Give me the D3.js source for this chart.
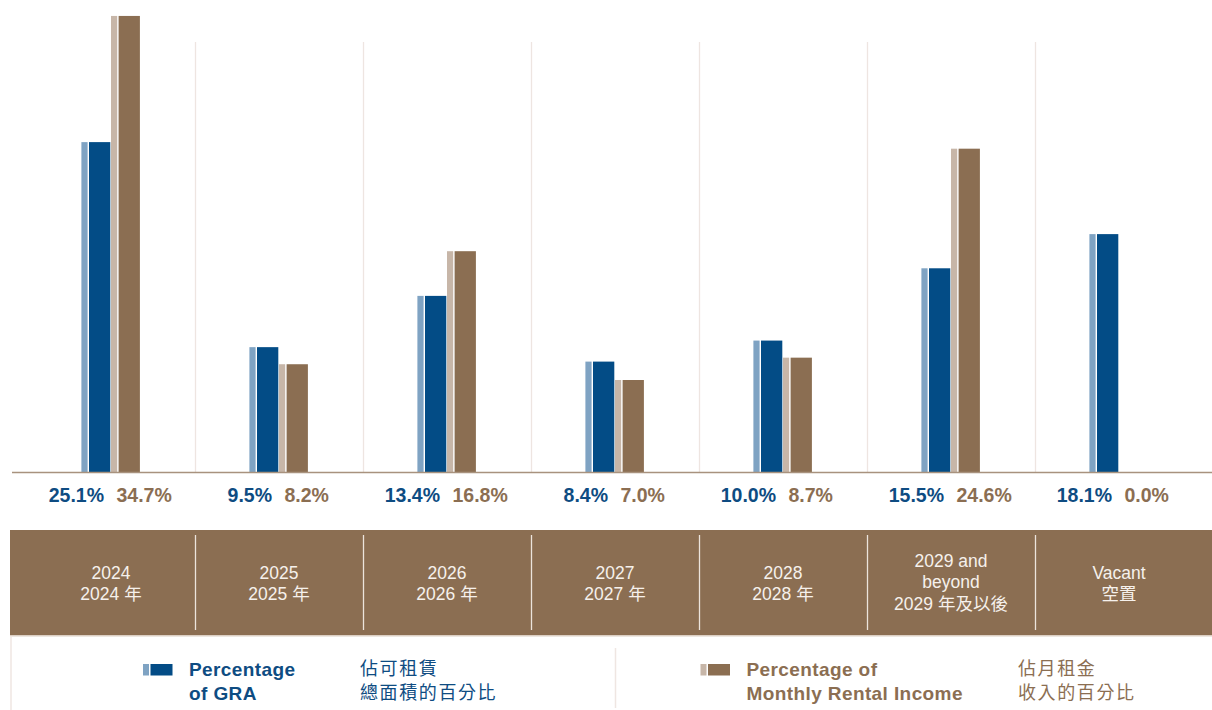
<!DOCTYPE html>
<html>
<head>
<meta charset="utf-8">
<script src="https://cdn.jsdelivr.net/npm/d3@7"></script>
<style>
  html, body { margin: 0; padding: 0; background: #ffffff; }
  svg { display: block; }
</style>
</head>
<body>
<svg id="chart" width="1212" height="710"></svg>
<script>
// ---- data ----
const categories = ["2024", "2025", "2026", "2027", "2028", "2029+", "Vacant"];
const categoryLabels = [
  ["2024", "2024 年"],
  ["2025", "2025 年"],
  ["2026", "2026 年"],
  ["2027", "2027 年"],
  ["2028", "2028 年"],
  ["2029 and", "beyond", "2029 年及以後"],
  ["Vacant", "空置"]
];
const graValues = [25.1, 9.5, 13.4, 8.4, 10.0, 15.5, 18.1];
const mriValues = [34.7, 8.2, 16.8, 7.0, 8.7, 24.6, 0.0];
const seriesKeys = ["gra", "mri"];
const seriesNamesEn = [["Percentage", "of GRA"], ["Percentage of", "Monthly Rental Income"]];
const seriesNamesZh = [["佔可租賃", "總面積的百分比"], ["佔月租金", "收入的百分比"]];

// ---- styles ----
const colors = {
  gra: { dark: "#034c86", light: "#7fa3c3", text: "#0e4c82" },
  mri: { dark: "#8b6e52", light: "#c7b6a8", text: "#8b6e52" }
};
const bandColor = "#8b6e52";

const svg = d3.select("#chart");
const baseY = 472;

const x0 = d3.scaleBand().domain(categories).range([27, 1203]);
const x1 = d3.scaleBand().domain(seriesKeys)
  .range([x0.bandwidth() / 2 - 29.6, x0.bandwidth() / 2 + 29.6]);
const y = d3.scaleLinear().domain([0, 35]).range([baseY, 12]);

// vertical dividers in plot area
svg.append("g").selectAll("line")
  .data(categories.slice(1))
  .join("line")
  .attr("x1", d => x0(d) + 0.5).attr("x2", d => x0(d) + 0.5)
  .attr("y1", 42).attr("y2", baseY)
  .attr("stroke", "#eee5e1").attr("stroke-width", 1.3);

// bars
const rows = categories.map((c, i) => ({ cat: c, gra: graValues[i], mri: mriValues[i] }));
const groups = svg.append("g").selectAll("g")
  .data(rows).join("g")
  .attr("transform", d => `translate(${x0(d.cat)},0)`);

const sw = x1.bandwidth();
const lightW = 6.2, gapW = 1.4, darkW = 21.3;
groups.each(function(d) {
  const g = d3.select(this);
  seriesKeys.forEach(k => {
    const v = d[k];
    if (v <= 0) return;
    const xs = x1(k);
    g.append("rect")
      .attr("x", xs).attr("y", y(v))
      .attr("width", lightW).attr("height", baseY - y(v))
      .attr("fill", colors[k].light);
    g.append("rect")
      .attr("x", xs + lightW + gapW).attr("y", y(v))
      .attr("width", darkW).attr("height", baseY - y(v))
      .attr("fill", colors[k].dark);
  });
});

// baseline axis
const xAxis = d3.axisBottom(x0).tickSize(0).tickFormat("");
svg.append("g").attr("transform", `translate(0,${baseY})`).call(xAxis)
  .call(g => g.select(".domain").remove());
svg.append("line")
  .attr("x1", 12).attr("x2", 1212).attr("y1", baseY + 0.5).attr("y2", baseY + 0.5)
  .attr("stroke", "#a8927e").attr("stroke-width", 1.6);

// value labels
const fmt = d3.format(".1f");
groups.append("text")
  .attr("x", x0.bandwidth() / 2 - 7).attr("y", 502)
  .attr("text-anchor", "end")
  .attr("font-family", "'Liberation Sans', Arial, sans-serif")
  .attr("font-weight", "bold").attr("font-size", 19.5)
  .attr("fill", colors.gra.text)
  .text(d => fmt(d.gra) + "%");
groups.append("text")
  .attr("x", x0.bandwidth() / 2 + 5.5).attr("y", 502)
  .attr("text-anchor", "start")
  .attr("font-family", "'Liberation Sans', Arial, sans-serif")
  .attr("font-weight", "bold").attr("font-size", 19.5)
  .attr("fill", colors.mri.text)
  .text(d => fmt(d.mri) + "%");

// category band
svg.append("rect")
  .attr("x", 10).attr("y", 530).attr("width", 1202).attr("height", 105)
  .attr("fill", bandColor);
svg.append("rect")
  .attr("x", 10).attr("y", 635).attr("width", 1202).attr("height", 1.5)
  .attr("fill", "#dccfc3");
svg.append("g").selectAll("line")
  .data(categories.slice(1))
  .join("line")
  .attr("x1", d => x0(d) + 0.5).attr("x2", d => x0(d) + 0.5)
  .attr("y1", 535).attr("y2", 630)
  .attr("stroke", "#ece4dc").attr("stroke-width", 1.3);

categories.forEach((c, i) => {
  const lines = categoryLabels[i];
  const lh = 21.5;
  const center = lines.length === 3 ? 588 : 589.5;
  const first = center - (lines.length - 1) * lh / 2;
  const t = svg.append("text")
    .attr("text-anchor", "middle")
    .attr("font-family", "'Liberation Sans', 'Noto Sans CJK TC', sans-serif")
    .attr("font-size", 17.5)
    .attr("fill", "#f6f1ec");
  lines.forEach((ln, j) => {
    t.append("tspan")
      .attr("x", x0(c) + x0.bandwidth() / 2)
      .attr("y", first + j * lh)
      .text(ln);
  });
});

// legend frame
svg.append("line")
  .attr("x1", 11).attr("x2", 11).attr("y1", 636).attr("y2", 710)
  .attr("stroke", "#efe6e2").attr("stroke-width", 1.5);
svg.append("line")
  .attr("x1", 615.5).attr("x2", 615.5).attr("y1", 648).attr("y2", 708)
  .attr("stroke", "#efe6e2").attr("stroke-width", 1.5);

// legend items
const legendX = [143, 700.5];
const legendTextX = [189, 746.5];
const legendZhX = [360, 1018];
seriesKeys.forEach((k, i) => {
  const lg = svg.append("g");
  lg.append("rect").attr("x", legendX[i]).attr("y", 664).attr("width", 6).attr("height", 11.5)
    .attr("fill", colors[k].light);
  lg.append("rect").attr("x", legendX[i] + 7.5).attr("y", 664).attr("width", 22).attr("height", 11.5)
    .attr("fill", colors[k].dark);
  const te = lg.append("text")
    .attr("font-family", "'Liberation Sans', Arial, sans-serif")
    .attr("font-weight", "bold").attr("font-size", 19)
    .attr("letter-spacing", 0.4)
    .attr("fill", colors[k].text);
  seriesNamesEn[i].forEach((ln, j) => {
    te.append("tspan").attr("x", legendTextX[i]).attr("y", 675.5 + j * 24).text(ln);
  });
  const tz = lg.append("text")
    .attr("font-family", "'Noto Sans CJK TC', sans-serif")
    .attr("font-size", 18).attr("letter-spacing", 1.6)
    .attr("fill", colors[k].text);
  seriesNamesZh[i].forEach((ln, j) => {
    tz.append("tspan").attr("x", legendZhX[i]).attr("y", 675 + j * 24).text(ln);
  });
});
</script>
</body>
</html>
